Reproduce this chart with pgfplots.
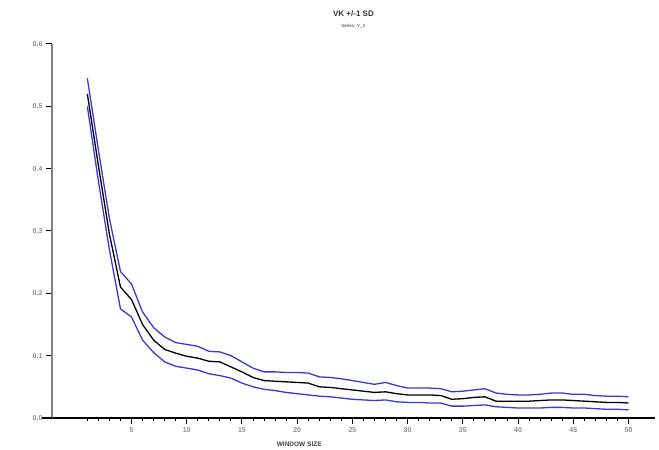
\documentclass[border=0pt]{standalone}
\usepackage{pgfplots}
\pgfplotsset{compat=1.18}
\usepackage{fontspec}
\setmainfont{Liberation Sans}
\usetikzlibrary{calc}
\definecolor{sdblue}{RGB}{60,55,215}
\definecolor{lab}{RGB}{140,140,140}
\begin{document}
\begin{tikzpicture}[x=1pt,y=1pt]
\begin{axis}[
  name=ax,
  scale only axis,
  width=603pt, height=374pt,
  xmin=-2.2, xmax=52.4,
  ymin=0, ymax=0.6,
  axis x line=bottom, axis y line=left,
  x axis line style={black, line width=1.2pt, -},
  y axis line style={gray, line width=1.2pt, -},
  xtick={5,10,...,50},
  minor xtick={1,...,49},
  ytick={0,0.1,...,0.6},
  tick align=outside,
  major tick length=6pt, minor tick length=3pt,
  every tick/.style={black, line width=1pt},
  tick label style={font=\fontsize{7}{8}\selectfont\bfseries, text=lab},
  yticklabel style={/pgf/number format/.cd, fixed, fixed zerofill, precision=1},
  /pgf/number format/assume math mode=true,
  xlabel={WINDOW SIZE},
  xlabel style={font=\fontsize{6.5}{7}\selectfont\bfseries, text=black!75, at={(rel axis cs:0.41,0)}, anchor=north, yshift=-20pt},
  title={\fontsize{8}{9}\selectfont\bfseries VK +/-1 SD\\[-1pt]{\fontsize{4.5}{5}\selectfont\mdseries Series: Y\_X}},
  title style={align=center, text=black!80, yshift=6pt},
  clip=false,
]
\coordinate (sw) at (rel axis cs:0,0);
\coordinate (ne) at (rel axis cs:1,1);
\draw[black, line width=1.2pt] (axis cs:-3.1,0) -- (axis cs:-2.2,0);
\addplot[sdblue, line width=1.3pt] coordinates {
(1,0.545)(2,0.43)(3,0.32)(4,0.235)(5,0.215)(6,0.17)(7,0.145)(8,0.13)(9,0.121)(10,0.118)
(11,0.115)(12,0.107)(13,0.106)(14,0.10)(15,0.09)(16,0.08)(17,0.074)(18,0.074)(19,0.073)(20,0.073)
(21,0.072)(22,0.066)(23,0.065)(24,0.063)(25,0.060)(26,0.057)(27,0.054)(28,0.057)(29,0.052)(30,0.048)
(31,0.048)(32,0.048)(33,0.047)(34,0.042)(35,0.043)(36,0.045)(37,0.047)(38,0.040)(39,0.038)(40,0.037)
(41,0.037)(42,0.038)(43,0.040)(44,0.040)(45,0.038)(46,0.038)(47,0.036)(48,0.035)(49,0.035)(50,0.034)};
\addplot[black, line width=1.3pt] coordinates {
(1,0.52)(2,0.405)(3,0.295)(4,0.21)(5,0.19)(6,0.15)(7,0.125)(8,0.11)(9,0.104)(10,0.099)
(11,0.096)(12,0.091)(13,0.090)(14,0.082)(15,0.074)(16,0.065)(17,0.060)(18,0.059)(19,0.058)(20,0.057)
(21,0.056)(22,0.050)(23,0.049)(24,0.047)(25,0.045)(26,0.043)(27,0.041)(28,0.042)(29,0.039)(30,0.037)
(31,0.037)(32,0.037)(33,0.036)(34,0.030)(35,0.031)(36,0.033)(37,0.034)(38,0.027)(39,0.027)(40,0.027)
(41,0.027)(42,0.028)(43,0.029)(44,0.029)(45,0.028)(46,0.027)(47,0.026)(48,0.025)(49,0.025)(50,0.024)};
\addplot[sdblue, line width=1.3pt] coordinates {
(1,0.50)(2,0.38)(3,0.27)(4,0.175)(5,0.162)(6,0.125)(7,0.105)(8,0.09)(9,0.083)(10,0.080)
(11,0.077)(12,0.071)(13,0.068)(14,0.064)(15,0.056)(16,0.050)(17,0.046)(18,0.044)(19,0.041)(20,0.039)
(21,0.037)(22,0.035)(23,0.034)(24,0.032)(25,0.030)(26,0.029)(27,0.028)(28,0.029)(29,0.026)(30,0.025)
(31,0.025)(32,0.024)(33,0.024)(34,0.019)(35,0.019)(36,0.020)(37,0.021)(38,0.018)(39,0.017)(40,0.016)
(41,0.016)(42,0.016)(43,0.017)(44,0.017)(45,0.016)(46,0.016)(47,0.015)(48,0.014)(49,0.014)(50,0.013)};
\end{axis}
\pgfresetboundingbox
\path ($(sw)+(-52pt,-32pt)$) rectangle ($(ne)+(4pt,44pt)$);
\end{tikzpicture}
\end{document}
